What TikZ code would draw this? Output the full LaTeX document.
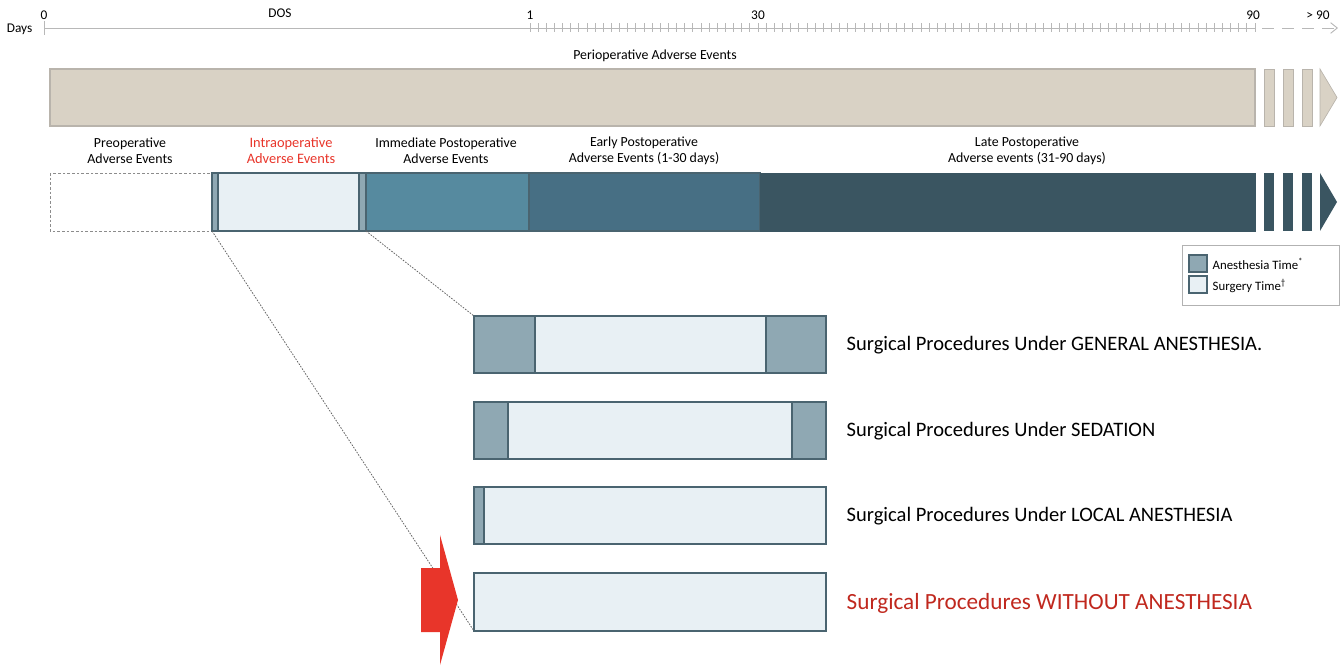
\documentclass[tikz,border=0pt]{standalone}
\usepackage{fontspec}
\setmainfont{Carlito}
\usetikzlibrary{arrows.meta}

% Colours
\definecolor{peri}{HTML}{D9D2C5}
\definecolor{periline}{HTML}{B9B4AC}
\definecolor{anesth}{HTML}{8FA8B3}
\definecolor{surg}{HTML}{E8F0F4}
\definecolor{barline}{HTML}{4A6470}
\definecolor{immed}{HTML}{568A9F}
\definecolor{early}{HTML}{476F84}
\definecolor{late}{HTML}{3A5561}
\definecolor{alertred}{HTML}{E8352A}
\definecolor{darkred}{HTML}{C0281E}

\begin{document}
\begin{tikzpicture}[x=0.75pt, y=-0.75pt,
    % Styles
    axis/.style={draw=black!28, line width=0.7pt},          % day axis
    numlbl/.style={font=\fontsize{10}{12}\selectfont},      % axis numbers
    lbl/.style={font=\fontsize{10.4}{11.8}\selectfont, align=center},
    seg/.style={draw=barline, line width=0.8pt},            % bar segments
    proclbl/.style={font=\fontsize{15.4}{18}\selectfont, anchor=west},
    zoomline/.style={draw=black!60, line width=0.6pt, dash pattern=on 1.2pt off 1pt}
]
  \useasboundingbox (0,0) rectangle (1343,666);

  % Day axis
  \draw[axis] (44,28) -- (1255,28);
  \draw[axis] (44,21) -- (44,35);
  \foreach \i in {0,...,89} {
    \draw[axis] ({530+\i*8.146},23.5) -- ++(0,9);
  }
  \draw[axis, dash pattern=on 9pt off 6pt, -{Straight Barb[length=5pt,width=8pt]}]
    (1262,28) -- (1338,28);

  \node[numlbl, anchor=east] (days) at (37,29) {Days};
  \node[numlbl] (d0)   at (44,15)   {0};
  \node[numlbl] (dos)  at (280,13)  {DOS};
  \node[numlbl] (d1)   at (530,15)  {1};
  \node[numlbl] (d30)  at (758,15)  {30};
  \node[numlbl] (d90)  at (1253,15) {90};
  \node[numlbl] (dgt)  at (1318,15) {> 90};

  % Perioperative bar
  \filldraw[fill=peri, draw=periline, line width=1pt] (50,69) rectangle (1255,126);
  \foreach \x in {1264,1283,1302} {
    \filldraw[fill=peri, draw=periline, line width=0.5pt] (\x,69) rectangle ++(10,57);
  }
  \filldraw[fill=peri, draw=periline, line width=0.5pt] (1320,69) -- (1337,97.5) -- (1320,126) -- cycle;
  \node[lbl] (perilbl) at (655,56) {Perioperative Adverse Events};

  % Phase bar
  \draw[draw=black!45, line width=0.6pt, dash pattern=on 2pt off 1.5pt] (50,173) rectangle (212,231);
  \filldraw[seg, fill=anesth] (212,173) rectangle (218,231);
  \filldraw[seg, fill=surg]   (218,173) rectangle (359,231);
  \filldraw[seg, fill=anesth] (359,173) rectangle (366,231);
  \filldraw[seg, fill=immed]  (366,173) rectangle (529,231);
  \filldraw[seg, fill=early]  (529,173) rectangle (760,231);
  \filldraw[draw=late, fill=late] (760,173) rectangle (1255,231);
  \foreach \x in {1264,1283,1302} {
    \fill[late] (\x,173) rectangle ++(10,58);
  }
  \fill[late] (1320,173) -- (1337,202) -- (1320,231) -- cycle;
  \coordinate (intraL) at (212,231);
  \coordinate (intraR) at (366,231);

  \node[lbl] (preop)  at (130,151)  {Preoperative\\Adverse Events};
  \node[lbl, text=alertred, font=\fontsize{10.8}{12}\selectfont] (intraop) at (291,151) {Intraoperative\\Adverse Events};
  \node[lbl] (immlbl) at (446,151)  {Immediate Postoperative\\Adverse Events};
  \node[lbl] (early)  at (644,151)  {Early Postoperative\\Adverse Events (1-30 days)};
  \node[lbl] (late)   at (1027,151) {Late Postoperative\\Adverse events (31-90 days)};

  % Legend
  \draw[draw=black!30, line width=0.6pt] (1182,245) rectangle (1339,305);
  \filldraw[seg, fill=anesth] (1189,255) rectangle (1207,272);
  \filldraw[seg, fill=surg]   (1189,276) rectangle (1207,293);
  \node[lbl, anchor=west, font=\fontsize{9.6}{11}\selectfont] (leganes) at (1208,264) {Anesthesia Time\textsuperscript{*}};
  \node[lbl, anchor=west, font=\fontsize{9.6}{11}\selectfont] (legsurg) at (1208,286) {Surgery Time\textsuperscript{\textdagger}};

  % Procedures: general anesthesia
  \filldraw[seg, fill=anesth] (474,316) rectangle (535,373);
  \filldraw[seg, fill=surg]   (535,316) rectangle (766,373);
  \filldraw[seg, fill=anesth] (766,316) rectangle (826,373);
  \coordinate (gaTop) at (474,316);
  \node[proclbl] (ga) at (842,345) {Surgical Procedures Under GENERAL ANESTHESIA.};

  % Sedation
  \filldraw[seg, fill=anesth] (474,402) rectangle (508,459);
  \filldraw[seg, fill=surg]   (508,402) rectangle (792,459);
  \filldraw[seg, fill=anesth] (792,402) rectangle (826,459);
  \node[proclbl] (sed) at (842,431) {Surgical Procedures Under SEDATION};

  % Local anesthesia
  \filldraw[seg, fill=anesth] (474,487) rectangle (484,544);
  \filldraw[seg, fill=surg]   (484,487) rectangle (826,544);
  \node[proclbl] (loc) at (842,516) {Surgical Procedures Under LOCAL ANESTHESIA};

  % Without anesthesia
  \filldraw[seg, fill=surg] (474,573) rectangle (826,631);
  \coordinate (woBot) at (474,631);
  \node[proclbl, text=darkred, font=\fontsize{17.4}{20}\selectfont] (wo) at (842,603) {Surgical Procedures WITHOUT ANESTHESIA};

  % Zoom lines
  \draw[zoomline] (intraL) -- (woBot);
  \draw[zoomline] (intraR) -- (gaTop);

  % Red arrow
  \fill[alertred] (421,568) -- (440,568) -- (440,535) -- (458,600)
    -- (440,665) -- (440,632) -- (421,632) -- cycle;

\end{tikzpicture}
\end{document}
